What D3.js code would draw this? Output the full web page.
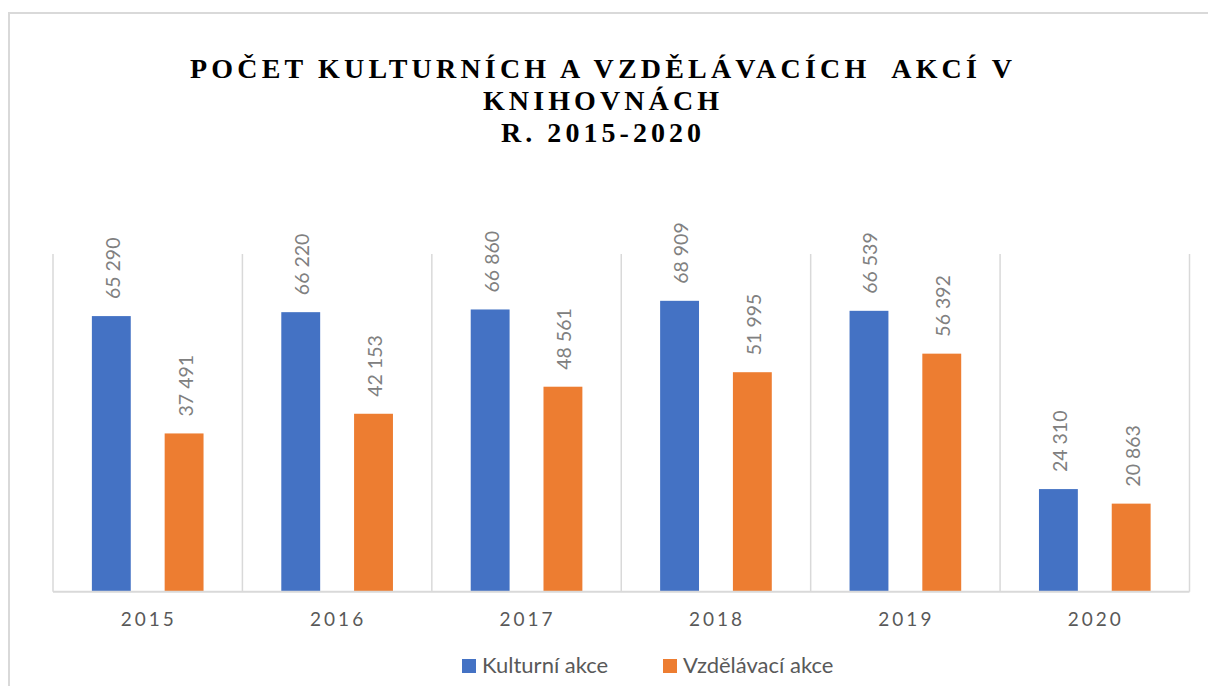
<!DOCTYPE html>
<html>
<head>
<meta charset="utf-8">
<script src="https://cdn.jsdelivr.net/npm/d3@7"></script>
<style>
  html, body { margin: 0; padding: 0; background: #fff; }
  svg { display: block; }
</style>
</head>
<body>
<svg id="chart" width="1208" height="686"></svg>
<script>
const titleLines = ["POČET KULTURNÍCH A VZDĚLÁVACÍCH  AKCÍ V", "KNIHOVNÁCH", "R. 2015-2020"];
const years = ["2015", "2016", "2017", "2018", "2019", "2020"];
const seriesNames = ["Kulturní akce", "Vzdělávací akce"];
const kulturni = [65290, 66220, 66860, 68909, 66539, 24310];
const vzdelavaci = [37491, 42153, 48561, 51995, 56392, 20863];
const colors = ["#4472C4", "#ED7D31"];

const svg = d3.select("#chart");
const fmt = v => d3.format(",")(v).replace(/,/g, " ");

// frame
svg.append("line").attr("x1", 8.5).attr("x2", 1208).attr("y1", 13).attr("y2", 13)
  .attr("stroke", "#d9d9d9").attr("stroke-width", 2);
svg.append("line").attr("x1", 9).attr("x2", 9).attr("y1", 12).attr("y2", 686)
  .attr("stroke", "#d9d9d9").attr("stroke-width", 2);

// title
const titleWidths = [822, 236, 200];
const titleY = [78, 110, 142];
titleLines.forEach((t, i) => {
  svg.append("text")
    .attr("x", 601).attr("y", titleY[i])
    .attr("text-anchor", "middle")
    .attr("font-family", "'Liberation Serif', 'Times New Roman', serif")
    .attr("font-weight", "bold")
    .attr("font-size", 28)
    .attr("fill", "#000")
    .attr("textLength", titleWidths[i])
    .attr("lengthAdjust", "spacing")
    .style("white-space", "pre")
    .text(t);
});

const x0 = d3.scaleBand().domain(years).range([53, 1189.5]).paddingInner(0).paddingOuter(0);
const x1 = d3.scaleBand().domain(seriesNames).range([0, x0.bandwidth()])
  .paddingInner(34 / 73).paddingOuter(39 / 73);
const y = d3.scaleLinear().domain([0, 80000]).range([591.7, 254]);

// category separators
const seps = years.map(d => x0(d)).concat([x0.range()[1]]);
svg.append("g").selectAll("line").data(seps).join("line")
  .attr("x1", d => d).attr("x2", d => d)
  .attr("y1", y(80000)).attr("y2", y(0))
  .attr("stroke", "#d9d9d9").attr("stroke-width", 1.5);

// bars
const data = years.map((yr, i) => ({ year: yr, vals: [kulturni[i], vzdelavaci[i]] }));
const groups = svg.append("g").selectAll("g").data(data).join("g")
  .attr("transform", d => `translate(${x0(d.year)},0)`);

groups.selectAll("rect").data(d => d.vals.map((v, j) => ({ v, s: seriesNames[j], j })))
  .join("rect")
  .attr("x", d => x1(d.s))
  .attr("width", x1.bandwidth())
  .attr("y", d => y(d.v))
  .attr("height", d => y(0) - y(d.v))
  .attr("fill", d => colors[d.j]);

groups.selectAll("text").data(d => d.vals.map((v, j) => ({ v, s: seriesNames[j], j })))
  .join("text")
  .attr("transform", d => `translate(${x1(d.s) + x1.bandwidth() / 2 + 1},${y(d.v) - 17}) rotate(-90)`)
  .attr("text-anchor", "start")
  .attr("dominant-baseline", "central")
  .attr("font-family", "Lato, 'Open Sans', sans-serif")
  .attr("font-size", 19.5)
  .attr("fill", "#808080")
  .text(d => fmt(d.v));

// baseline axis
svg.append("line").attr("x1", 53).attr("x2", 1189.5).attr("y1", y(0)).attr("y2", y(0))
  .attr("stroke", "#d9d9d9").attr("stroke-width", 2);

// category labels
svg.append("g").selectAll("text").data(years).join("text")
  .attr("x", d => x0(d) + x0.bandwidth() / 2 + 1)
  .attr("y", 626)
  .attr("text-anchor", "middle")
  .attr("font-family", "Lato, 'Open Sans', sans-serif")
  .attr("font-size", 19)
  .attr("letter-spacing", 3)
  .attr("fill", "#595959")
  .text(d => d);

// legend
const legendItems = [{ name: seriesNames[0], x: 462 }, { name: seriesNames[1], x: 663 }];
legendItems.forEach((it, i) => {
  svg.append("rect").attr("x", it.x).attr("y", 659).attr("width", 14).attr("height", 14)
    .attr("fill", colors[i]);
  svg.append("text").attr("x", it.x + 20).attr("y", 672.5)
    .attr("font-family", "Lato, 'Open Sans', sans-serif")
    .attr("font-size", 22)
    .attr("fill", "#595959")
    .text(it.name);
});
</script>
</body>
</html>
